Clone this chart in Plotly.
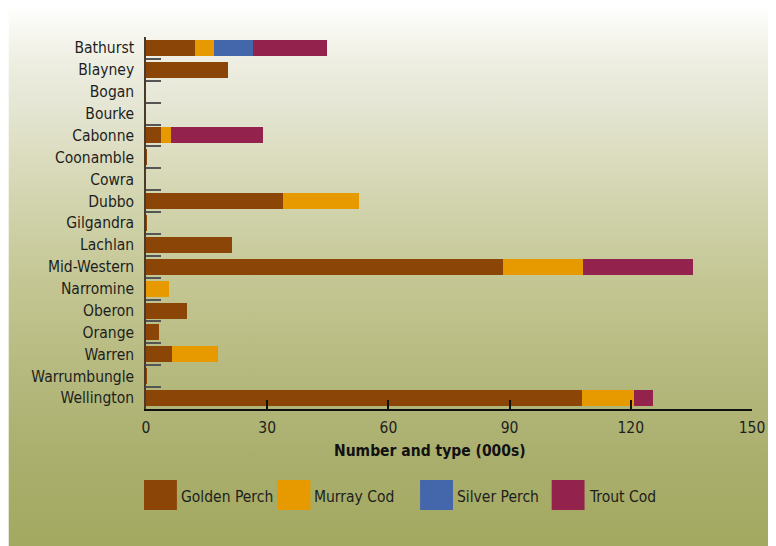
import base64
import plotly.graph_objects as go

# ---- data ----
regions = ["Bathurst", "Blayney", "Bogan", "Bourke", "Cabonne", "Coonamble", "Cowra",
           "Dubbo", "Gilgandra", "Lachlan", "Mid-Western", "Narromine", "Oberon",
           "Orange", "Warren", "Warrumbungle", "Wellington"]
golden_perch = [12.1, 20.2, 0, 0, 3.7, 0.1, 0, 34.0, 0.15, 21.2, 88.3, 0, 10.1, 3.2, 6.4, 0.15, 107.8]
murray_cod = [4.7, 0, 0, 0, 2.5, 0, 0, 18.6, 0, 0, 19.8, 5.7, 0, 0, 11.4, 0, 12.9]
silver_perch = [9.8, 0, 0, 0, 0, 0, 0, 0, 0, 0, 0, 0, 0, 0, 0, 0, 0]
trout_cod = [18.3, 0, 0, 0, 22.7, 0, 0, 0, 0, 0, 27.4, 0, 0, 0, 0, 0, 4.9]
series_names = ["Golden Perch", "Murray Cod", "Silver Perch", "Trout Cod"]
x_ticks = [0, 30, 60, 90, 120, 150]

colors = ["#8B4506", "#E69A00", "#4466AA", "#93234D"]
FONT = "DejaVu Sans Condensed, Open Sans, sans-serif"
FS = 15.5

# page body has a small default margin; figure is offset by it
OFF = 7
PAGE_W, PAGE_H = 776, 546
X0, X1, Y0, Y1 = 145, 753, 36, 408   # plot area in page pixels
W, H = PAGE_W - OFF, PAGE_H - OFF
ML, MR, MT, MB = X0 - OFF, PAGE_W - X1, Y0 - OFF, PAGE_H - Y1
PW, PH = X1 - X0, Y1 - Y0


def px(x):
    return (x - X0) / PW


def py(y):
    return (Y1 - y) / PH


fig = go.Figure()
for name, vals, col in zip(series_names, [golden_perch, murray_cod, silver_perch, trout_cod], colors):
    fig.add_trace(go.Bar(y=regions, x=vals, name=name, orientation="h",
                         marker=dict(color=col, line=dict(width=0))))

# gradient background via SVG image
stops = [(0.0, "#FFFFFF"), (0.02, "#FDFDFB"), (0.11, "#EEEEE2"), (0.19, "#E5E6D4"),
         (0.28, "#DCDDC0"), (0.37, "#D2D4AE"), (0.52, "#C3C692"), (0.70, "#B4B87C"),
         (0.85, "#A9AE6C"), (1.0, "#A3A960")]
stop_xml = "".join(f"<stop offset='{o}' stop-color='{c}'/>" for o, c in stops)
svg = ("<svg xmlns='http://www.w3.org/2000/svg' width='769' height='545' preserveAspectRatio='none'>"
       "<defs><linearGradient id='g' x1='0' y1='0' x2='0' y2='1'>" + stop_xml +
       "</linearGradient></defs><rect width='769' height='545' fill='url(#g)'/></svg>")
src = "data:image/svg+xml;base64," + base64.b64encode(svg.encode()).decode()
fig.add_layout_image(dict(source=src, xref="paper", yref="paper", x=px(7), y=py(0),
                          sizex=769 / PW, sizey=545 / PH, xanchor="left", yanchor="top",
                          sizing="stretch", layer="below"))

# custom legend
sq_x = [143, 277, 420, 552]
shapes = []
annotations = []
for i, (name, col) in enumerate(zip(series_names, colors)):
    shapes.append(dict(type="rect", xref="paper", yref="paper",
                       x0=px(sq_x[i]), x1=px(sq_x[i] + 33), y0=py(509), y1=py(479),
                       fillcolor=col, line=dict(width=0), layer="above"))
    annotations.append(dict(text=name, xref="paper", yref="paper", x=px(sq_x[i] + 35), y=py(496),
                            xanchor="left", yanchor="middle", showarrow=False,
                            font=dict(family=FONT, size=FS, color="#1e1e1e")))

annotations.append(dict(text="<b>Number and type (000s)</b>", xref="paper", yref="paper",
                        x=px(430), y=py(450), xanchor="center", yanchor="middle", showarrow=False,
                        font=dict(family=FONT, size=FS, color="#111111")))

fig.update_layout(
    width=W, height=H, margin=dict(l=ML, r=MR, t=MT, b=MB),
    barmode="stack", bargap=0.27, showlegend=False,
    paper_bgcolor="white", plot_bgcolor="rgba(0,0,0,0)",
    font=dict(family=FONT, size=FS, color="#1e1e1e"),
    shapes=shapes, annotations=annotations,
)
fig.update_xaxes(range=[0, 150], tickmode="array", tickvals=x_ticks,
                 ticktext=[str(v) for v in x_ticks],
                 ticks="inside", ticklen=9, tickcolor="#111111", tickwidth=1.5,
                 showline=True, linecolor="#111111", linewidth=1.5,
                 showgrid=False, zeroline=False, ticklabelstandoff=4,
                 tickfont=dict(family=FONT, size=FS, color="#1e1e1e"))
fig.update_yaxes(categoryorder="array", categoryarray=regions, autorange="reversed",
                 tickmode="array", tickvals=regions, ticktext=regions,
                 ticks="inside", ticklen=15, tickcolor="#555555", tickwidth=1.5,
                 tickson="boundaries", showline=True, linecolor="#4a3a2a", linewidth=1.5,
                 showgrid=False, zeroline=False, ticklabelstandoff=7,
                 tickfont=dict(family=FONT, size=FS, color="#1e1e1e"))

fig.write_html("out.html")
